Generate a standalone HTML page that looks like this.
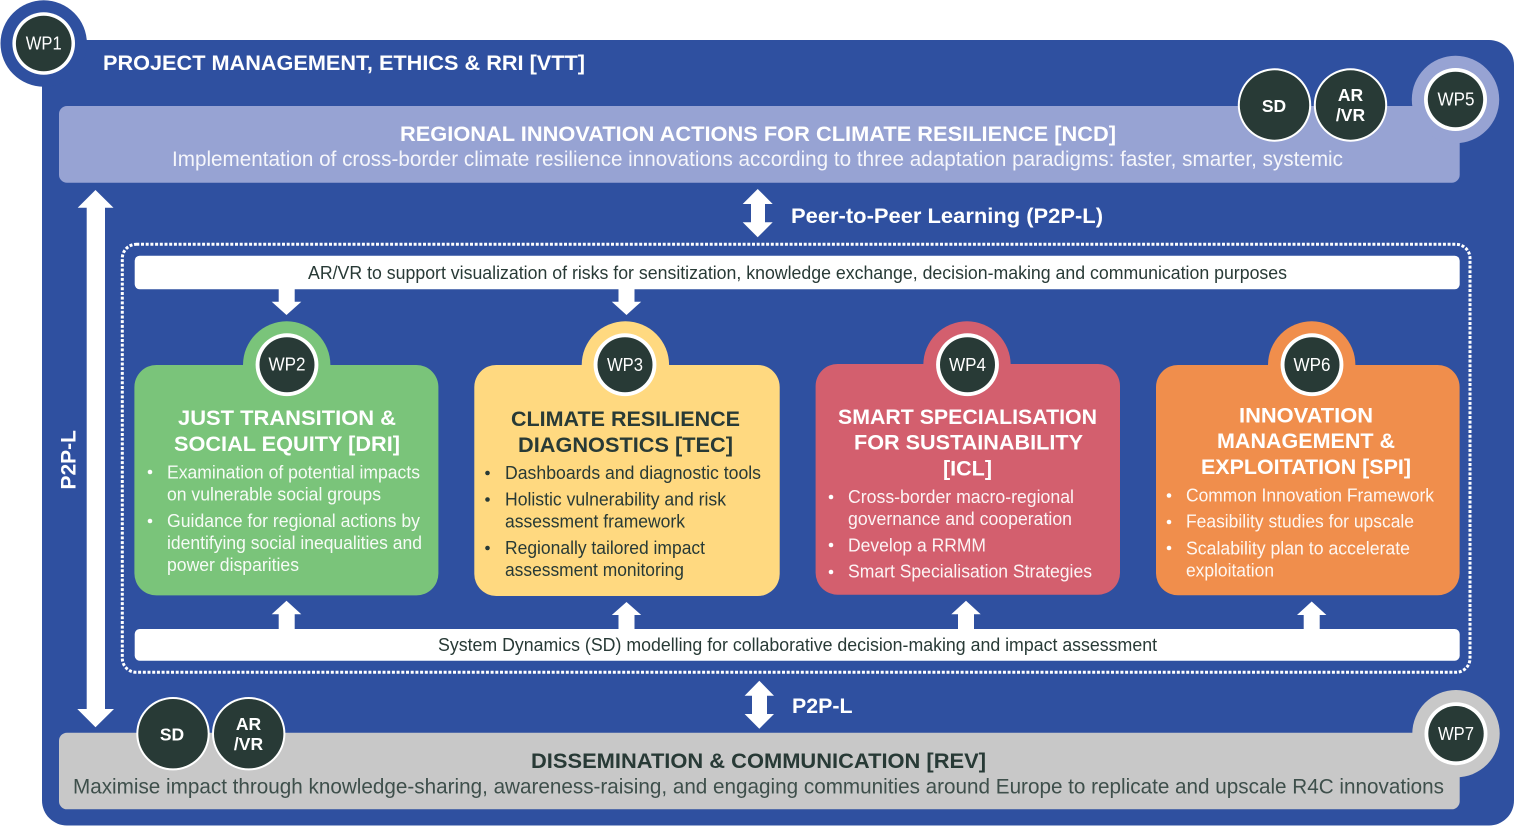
<!DOCTYPE html>
<html lang="en">
<head>
<meta charset="utf-8">
<title>Work packages diagram</title>
<style>
html,body{margin:0;padding:0;background:#fff;width:1514px;height:826px;overflow:hidden}
svg{display:block}
text{font-family:"Liberation Sans",sans-serif}
.t{font-weight:700;font-size:21px;fill:#fff}
.d{fill:#283A36}
.b{font-size:18px;fill:#fff;fill-opacity:.93}
.bd{font-size:18px;fill:#283A36}
.wp{font-size:18px;fill:#fff;text-anchor:middle}
.cc{font-weight:700;font-size:17.5px;fill:#fff;text-anchor:middle}
</style>
</head>
<body>
<svg width="1514" height="826" viewBox="0 0 1514 826" xmlns="http://www.w3.org/2000/svg">
<!-- main panel -->
<rect x="42" y="40" width="1472" height="785.5" rx="25" fill="#2F50A0"/>
<circle cx="43.7" cy="43.5" r="43.2" fill="#2F50A0"/>
<circle cx="43.7" cy="43.5" r="31.3" fill="#fff"/>
<circle cx="43.7" cy="43.5" r="27.8" fill="#283A36"/>
<text class="wp" x="43.7" y="49.5" textLength="36" lengthAdjust="spacingAndGlyphs">WP1</text>
<text class="t" x="103" y="70" textLength="482" lengthAdjust="spacingAndGlyphs">PROJECT MANAGEMENT, ETHICS &amp; RRI [VTT]</text>

<!-- regional box -->
<rect x="59" y="106" width="1400.7" height="76.7" rx="8" fill="#97A3D3"/>
<circle cx="1455.5" cy="99.5" r="43.7" fill="#97A3D3"/>
<circle cx="1455.5" cy="99.5" r="31.5" fill="#fff"/>
<circle cx="1455.5" cy="99.5" r="27.7" fill="#283A36"/>
<text class="wp" x="1456" y="105.5" textLength="37" lengthAdjust="spacingAndGlyphs">WP5</text>
<circle cx="1274.5" cy="105" r="36.7" fill="#fff"/>
<circle cx="1274.5" cy="105" r="34.7" fill="#283A36"/>
<text class="cc" x="1274" y="112">SD</text>
<circle cx="1350.5" cy="105" r="36.7" fill="#fff"/>
<circle cx="1350.5" cy="105" r="34.7" fill="#283A36"/>
<text class="cc" x="1350.5" y="101">AR</text>
<text class="cc" x="1350.5" y="121">/VR</text>
<text class="t" x="400" y="141" textLength="716" lengthAdjust="spacingAndGlyphs">REGIONAL INNOVATION ACTIONS FOR CLIMATE RESILIENCE [NCD]</text>
<text x="172" y="166" font-size="21" fill="#fff" fill-opacity=".9" textLength="1171" lengthAdjust="spacingAndGlyphs">Implementation of cross-border climate resilience innovations according to three adaptation paradigms: faster, smarter, systemic</text>

<!-- left long arrow -->
<polygon points="95.5,190 113.5,207.7 105,207.7 105,709 114,709 95.5,727.3 77.3,709 86.7,709 86.7,207.7 77.7,207.7" fill="#fff"/>
<text transform="translate(75.5,489.5) rotate(-90)" font-size="21" font-weight="700" fill="#fff" textLength="59.5" lengthAdjust="spacingAndGlyphs">P2P-L</text>

<!-- peer arrow -->
<polygon points="757.7,189 772.7,204 765,204 765,222.3 772.7,222.3 757.7,237.3 742.7,222.3 751,222.3 751,204 742.7,204" fill="#fff"/>
<text class="t" x="791" y="223" textLength="312" lengthAdjust="spacingAndGlyphs">Peer-to-Peer Learning (P2P-L)</text>

<!-- dotted frame -->
<rect x="122.3" y="244.3" width="1347.7" height="428" rx="14" fill="none" stroke="#fff" stroke-width="3" stroke-dasharray="3 1.7"/>

<!-- top bar -->
<rect x="134.7" y="255.7" width="1325" height="33.6" rx="5" fill="#fff"/>
<text x="308" y="279" font-size="18" fill="#283A36" textLength="979" lengthAdjust="spacingAndGlyphs">AR/VR to support visualization of risks for sensitization, knowledge exchange, decision-making and communication purposes</text>
<polygon points="278.7,289 294.7,289 294.7,301.7 301.3,301.7 286.5,315 271.7,301.7 278.7,301.7" fill="#fff"/>
<polygon points="618.5,289 634.5,289 634.5,301.7 641.2,301.7 626.5,315 611.8,301.7 618.5,301.7" fill="#fff"/>

<!-- green card -->
<circle cx="286.7" cy="365" r="43.7" fill="#7AC47A"/>
<rect x="134.4" y="365" width="304" height="230.4" rx="22" fill="#7AC47A"/>
<circle cx="287" cy="364.7" r="31.4" fill="#fff"/>
<circle cx="287" cy="364.7" r="27.5" fill="#283A36"/>
<text class="wp" x="287" y="370.5" textLength="37" lengthAdjust="spacingAndGlyphs">WP2</text>
<text class="t" x="178" y="425" textLength="218" lengthAdjust="spacingAndGlyphs">JUST TRANSITION &amp;</text>
<text class="t" x="174" y="451" textLength="226" lengthAdjust="spacingAndGlyphs">SOCIAL EQUITY [DRI]</text>
<circle cx="150" cy="472" r="2.3" fill="#fff"/>
<circle cx="150" cy="521" r="2.3" fill="#fff"/>
<text class="b" x="167" y="478.5" textLength="253" lengthAdjust="spacingAndGlyphs">Examination of potential impacts</text>
<text class="b" x="167" y="500.5" textLength="214" lengthAdjust="spacingAndGlyphs">on vulnerable social groups</text>
<text class="b" x="167" y="527" textLength="253" lengthAdjust="spacingAndGlyphs">Guidance for regional actions by</text>
<text class="b" x="167" y="549" textLength="255" lengthAdjust="spacingAndGlyphs">identifying social inequalities and</text>
<text class="b" x="167" y="571" textLength="132" lengthAdjust="spacingAndGlyphs">power disparities</text>

<!-- yellow card -->
<circle cx="625.4" cy="365" r="43.7" fill="#FFD980"/>
<rect x="474.3" y="365" width="305.4" height="231" rx="22" fill="#FFD980"/>
<circle cx="625" cy="364.7" r="31.4" fill="#fff"/>
<circle cx="625" cy="364.7" r="27.5" fill="#283A36"/>
<text class="wp" x="625" y="371" textLength="36" lengthAdjust="spacingAndGlyphs">WP3</text>
<text class="t d" x="511" y="426" textLength="229" lengthAdjust="spacingAndGlyphs">CLIMATE RESILIENCE</text>
<text class="t d" x="518" y="452" textLength="215" lengthAdjust="spacingAndGlyphs">DIAGNOSTICS [TEC]</text>
<circle cx="487.5" cy="473" r="2.3" fill="#283A36"/>
<circle cx="487.5" cy="499.5" r="2.3" fill="#283A36"/>
<circle cx="487.5" cy="548" r="2.3" fill="#283A36"/>
<text class="bd" x="505" y="479" textLength="256" lengthAdjust="spacingAndGlyphs">Dashboards and diagnostic tools</text>
<text class="bd" x="505" y="505.5" textLength="221" lengthAdjust="spacingAndGlyphs">Holistic vulnerability and risk</text>
<text class="bd" x="505" y="527.7" textLength="180" lengthAdjust="spacingAndGlyphs">assessment framework</text>
<text class="bd" x="505" y="554" textLength="200" lengthAdjust="spacingAndGlyphs">Regionally tailored impact</text>
<text class="bd" x="505" y="576" textLength="179" lengthAdjust="spacingAndGlyphs">assessment monitoring</text>

<!-- red card -->
<circle cx="967" cy="365" r="43.7" fill="#D35F6E"/>
<rect x="815.6" y="364" width="304.4" height="230.7" rx="22" fill="#D35F6E"/>
<circle cx="967.5" cy="364.7" r="31.4" fill="#fff"/>
<circle cx="967.5" cy="364.7" r="27.5" fill="#283A36"/>
<text class="wp" x="967.5" y="371" textLength="37" lengthAdjust="spacingAndGlyphs">WP4</text>
<text class="t" x="838" y="424" textLength="259" lengthAdjust="spacingAndGlyphs">SMART SPECIALISATION</text>
<text class="t" x="854" y="449.7" textLength="229" lengthAdjust="spacingAndGlyphs">FOR SUSTAINABILITY</text>
<text class="t" x="943" y="475.7" textLength="49" lengthAdjust="spacingAndGlyphs">[ICL]</text>
<circle cx="831" cy="497" r="2.3" fill="#fff"/>
<circle cx="831" cy="545" r="2.3" fill="#fff"/>
<circle cx="831" cy="572" r="2.3" fill="#fff"/>
<text class="b" x="848" y="503" textLength="226" lengthAdjust="spacingAndGlyphs">Cross-border macro-regional</text>
<text class="b" x="848" y="525" textLength="224" lengthAdjust="spacingAndGlyphs">governance and cooperation</text>
<text class="b" x="848" y="551.3" textLength="138" lengthAdjust="spacingAndGlyphs">Develop a RRMM</text>
<text class="b" x="848" y="577.7" textLength="244" lengthAdjust="spacingAndGlyphs">Smart Specialisation Strategies</text>

<!-- orange card -->
<circle cx="1311.7" cy="365" r="43.7" fill="#F08E4C"/>
<rect x="1156" y="365" width="303.6" height="230.3" rx="22" fill="#F08E4C"/>
<circle cx="1312" cy="364.7" r="31.4" fill="#fff"/>
<circle cx="1312" cy="364.7" r="27.5" fill="#283A36"/>
<text class="wp" x="1312" y="371" textLength="37" lengthAdjust="spacingAndGlyphs">WP6</text>
<text class="t" x="1239" y="422.3" textLength="134" lengthAdjust="spacingAndGlyphs">INNOVATION</text>
<text class="t" x="1217" y="448" textLength="178" lengthAdjust="spacingAndGlyphs">MANAGEMENT &amp;</text>
<text class="t" x="1201" y="474" textLength="210" lengthAdjust="spacingAndGlyphs">EXPLOITATION [SPI]</text>
<circle cx="1169" cy="495.5" r="2.3" fill="#fff"/>
<circle cx="1169" cy="522" r="2.3" fill="#fff"/>
<circle cx="1169" cy="548" r="2.3" fill="#fff"/>
<text class="b" x="1186" y="501.3" textLength="248" lengthAdjust="spacingAndGlyphs">Common Innovation Framework</text>
<text class="b" x="1186" y="527.7" textLength="228" lengthAdjust="spacingAndGlyphs">Feasibility studies for upscale</text>
<text class="b" x="1186" y="554.3" textLength="224" lengthAdjust="spacingAndGlyphs">Scalability plan to accelerate</text>
<text class="b" x="1186" y="576.3" textLength="88" lengthAdjust="spacingAndGlyphs">exploitation</text>

<!-- bottom bar -->
<polygon points="286.5,600.7 301.3,614.3 294.7,614.3 294.7,630 278.7,630 278.7,614.3 271.7,614.3" fill="#fff"/>
<polygon points="626.5,602 641.2,615 634.5,615 634.5,630 618.5,630 618.5,615 611.8,615" fill="#fff"/>
<polygon points="966,600.7 980.7,614.3 974,614.3 974,630 958,630 958,614.3 951.3,614.3" fill="#fff"/>
<polygon points="1311.7,601.5 1326.4,615 1319.7,615 1319.7,630 1303.7,630 1303.7,615 1297,615" fill="#fff"/>
<rect x="134.7" y="629" width="1325" height="31.7" rx="5" fill="#fff"/>
<text x="438" y="651" font-size="18" fill="#283A36" textLength="719" lengthAdjust="spacingAndGlyphs">System Dynamics (SD) modelling for collaborative decision-making and impact assessment</text>

<!-- bottom P2P arrow -->
<polygon points="759.3,680.7 774,695.7 767,695.7 767,714 774,714 759.3,728.7 744.6,714 752,714 752,695.7 744.6,695.7" fill="#fff"/>
<text class="t" x="792" y="713" textLength="60.5" lengthAdjust="spacingAndGlyphs">P2P-L</text>

<!-- grey box -->
<rect x="59" y="732.7" width="1400.7" height="76.6" rx="8" fill="#C8C8C8"/>
<circle cx="1456" cy="733.7" r="43.7" fill="#C8C8C8"/>
<circle cx="1456" cy="733.7" r="31.5" fill="#fff"/>
<circle cx="1456" cy="733.7" r="27.7" fill="#283A36"/>
<text class="wp" x="1456" y="740" textLength="36" lengthAdjust="spacingAndGlyphs">WP7</text>
<circle cx="173" cy="733.7" r="36.7" fill="#fff"/>
<circle cx="173" cy="733.7" r="34.7" fill="#283A36"/>
<text class="cc" x="172" y="740.5">SD</text>
<circle cx="248.7" cy="733.7" r="36.7" fill="#fff"/>
<circle cx="248.7" cy="733.7" r="34.7" fill="#283A36"/>
<text class="cc" x="248.5" y="730">AR</text>
<text class="cc" x="248.5" y="750">/VR</text>
<text class="t d" x="531" y="768" textLength="455" lengthAdjust="spacingAndGlyphs">DISSEMINATION &amp; COMMUNICATION [REV]</text>
<text x="73" y="793.5" font-size="21" fill="#3E4F4B" textLength="1371" lengthAdjust="spacingAndGlyphs">Maximise impact through knowledge-sharing, awareness-raising, and engaging communities around Europe to replicate and upscale R4C innovations</text>
</svg>
</body>
</html>
